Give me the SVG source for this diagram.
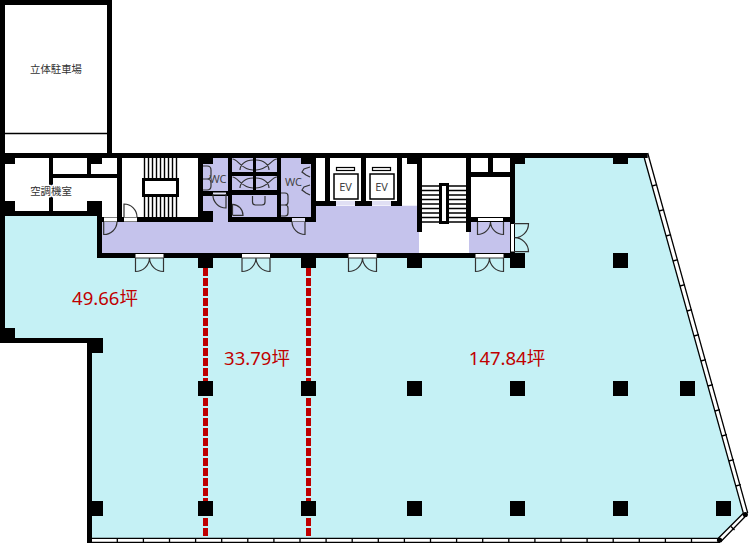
<svg xmlns="http://www.w3.org/2000/svg" width="749" height="543" viewBox="0 0 749 543">
<style>
.k{fill:#000}
.cy{fill:#c5f1f5}
.pu{fill:#c5c3ec}
.wh{fill:#fff}
.door{fill:none;stroke:#333;stroke-width:1.2}
.ln{fill:none;stroke:#000;stroke-width:1.3}
.st{fill:none;stroke:#000;stroke-width:1.4}
.pane{fill:#fff;stroke:none}
.red{fill:none;stroke:#bf0000;stroke-width:5;stroke-dasharray:8 2}
.lab{font-family:"Noto Sans","Noto Sans CJK JP",sans-serif;fill:#333;font-size:10.4px;text-anchor:middle}
.wc{font-family:"Noto Sans",sans-serif;fill:#444;font-size:11px;text-anchor:middle}
.area{font-family:"Noto Sans","Noto Sans CJK JP",sans-serif;fill:#c00000;font-size:18.5px;text-anchor:middle}
</style>
<rect width="749" height="543" class="wh"/>
<polygon class="cy" points="5,216 100,216 100,255 510,255 510,158 644.3,158 743.3,513 718.3,538.3 92,538.3 92,340 5,340"/>
<path class="pu" d="M102 222H228V158H203V222ZM228 205H316V158H228ZM316 205.7H419V253H102V222H316ZM469 222H510V253H469Z"/>
<rect class="pu" x="203" y="158" width="108" height="64"/>

<path class="red" d="M205.5 268V536"/>
<path class="red" d="M308.5 268V536"/>

<g id="walls">
<path class="k" d="M0 0H112V158H107V5H5V153H647.7V158H5V211H102V253H515V258H97V216H5V338H92V543H87V343H0Z"/>
<rect class="k" x="5" y="158" width="10" height="6"/>
<rect class="k" x="87" y="158" width="15" height="6"/>
<rect class="k" x="5" y="201" width="10" height="12"/>
<rect class="k" x="87" y="201" width="15" height="15"/>
<rect class="k" x="49" y="158" width="4" height="54"/>
<rect class="k" x="53" y="174" width="64" height="4"/>
<rect class="k" x="87" y="158" width="4" height="18"/>
<rect class="k" x="117" y="158" width="5" height="64"/>
<rect class="k" x="102" y="217" width="111" height="5"/>
<rect class="k" x="198" y="158" width="5" height="60"/>
<rect class="k" x="198" y="158" width="15" height="6"/>
<rect class="k" x="198" y="211" width="15" height="11"/>
<rect class="k" x="203" y="191" width="25" height="5"/>
<rect class="k" x="228" y="158" width="4" height="64"/>
<rect class="k" x="277" y="158" width="4" height="64"/>
<rect class="k" x="311" y="158" width="5" height="64"/>
<rect class="k" x="301" y="158" width="10" height="6"/>
<rect class="k" x="228" y="217" width="88" height="5"/>
<rect class="k" x="232" y="172" width="45" height="4"/>
<rect class="k" x="232" y="190" width="45" height="5"/>
<rect class="k" x="253" y="158" width="3" height="32"/>
<rect class="k" x="325" y="158" width="5" height="48"/>
<rect class="k" x="361" y="158" width="5" height="48"/>
<rect class="k" x="397" y="158" width="5" height="48"/>
<rect class="k" x="316" y="201" width="20" height="5"/>
<rect class="k" x="355" y="201" width="17" height="5"/>
<rect class="k" x="391" y="201" width="11" height="5"/>
<rect class="k" x="407" y="158" width="15" height="6"/>
<rect class="k" x="417" y="158" width="5" height="74"/>
<rect class="k" x="466" y="158" width="5" height="74"/>
<rect class="k" x="510" y="158" width="5" height="100"/>
<rect class="k" x="510" y="158" width="15" height="6"/>
<rect class="k" x="613" y="158" width="15" height="6"/>
<rect class="k" x="471" y="172" width="39" height="5"/>
<rect class="k" x="488" y="158" width="5" height="14"/>
<rect class="k" x="466" y="217" width="49" height="5"/>
</g>

<g id="columns">
<rect class="k" x="0" y="328" width="15" height="15"/>
<rect class="k" x="88" y="338" width="15" height="15"/>
<rect class="k" x="198" y="253" width="15" height="15"/>
<rect class="k" x="301" y="253" width="15" height="15"/>
<rect class="k" x="407" y="253" width="15" height="15"/>
<rect class="k" x="510" y="253" width="15" height="15"/>
<rect class="k" x="613" y="253" width="15" height="15"/>
<rect class="k" x="198" y="381" width="15" height="15"/>
<rect class="k" x="301" y="381" width="15" height="15"/>
<rect class="k" x="407" y="381" width="15" height="15"/>
<rect class="k" x="510" y="381" width="15" height="15"/>
<rect class="k" x="613" y="381" width="15" height="15"/>
<rect class="k" x="680" y="381" width="15" height="15"/>
<rect class="k" x="88" y="501" width="15" height="15"/>
<rect class="k" x="198" y="501" width="15" height="15"/>
<rect class="k" x="301" y="501" width="15" height="15"/>
<rect class="k" x="407" y="501" width="15" height="15"/>
<rect class="k" x="510" y="501" width="15" height="15"/>
<rect class="k" x="613" y="501" width="15" height="15"/>
<rect class="k" x="716" y="501" width="15" height="15"/>
</g>

<g id="parking">
<path class="ln" d="M5 133.5H107"/>
<text class="lab" x="56" y="73">立体駐車場</text>
</g>

<g id="windows">
<path class="ln" d="M92 538.4H719M92 542.4H720M644.3 158L743.3 513M647.7 153L747.7 513M743.3 513.3L718.3 538.3M746.7 515L720.7 541.7"/>
<path class="ln" d="M117.3 538V543M143.4 538V543M169.5 538V543M195.6 538V543M221.7 538V543M247.8 538V543M273.9 538V543M300 538V543M326.1 538V543M352.2 538V543M378.3 538V543M404.4 538V543M430.5 538V543M456.6 538V543M482.7 538V543M508.8 538V543M534.9 538V543M561 538V543M587.1 538V543M613.2 538V543M639.3 538V543M665.4 538V543M691.5 538V543"/>
<path class="ln" d="M652.1 186l5 -1.4M659.1 211l5 -1.4M666.1 236l5 -1.4M673 261l5 -1.4M680 286l5 -1.4M687 311l5 -1.4M694 336l5 -1.4M700.9 361l5 -1.4M707.9 386l5 -1.4M714.9 411l5 -1.4M721.9 436l5 -1.4M728.8 461l5 -1.4M735.8 486l5 -1.4M731 526.5l3.5 3.5"/>
<circle class="k" cx="745.3" cy="514.5" r="2.6"/>
<circle class="k" cx="719.5" cy="540" r="2.6"/>
</g>

<g id="stairs-west">
<path class="st" d="M144.5 158V178M148.5 158V178M152.5 158V178M156.5 158V178M160.5 158V178M164.5 158V178M168.5 158V178M172.5 158V178M176.5 158V178"/>
<path class="st" d="M144.5 197V217M148.5 197V217M152.5 197V217M156.5 197V217M160.5 197V217M164.5 197V217M168.5 197V217M172.5 197V217M176.5 197V217"/>
<rect x="143.5" y="179.5" width="34" height="16" fill="#fff" stroke="#000" stroke-width="3"/>
</g>

<g id="stairs-east">
<path class="st" d="M422 186H439M449 186H466M422 190.5H439M449 190.5H466M422 195H439M449 195H466M422 199.5H439M449 199.5H466M422 204H439M449 204H466M422 208.5H439M449 208.5H466M422 213H439M449 213H466M422 217.5H439M449 217.5H466M422 222H439M449 222H466"/>
<rect x="440.5" y="184.5" width="7" height="38" fill="#fff" stroke="#000" stroke-width="3"/>
</g>

<g id="elevator-1">
<rect x="334" y="174" width="24" height="25" fill="#fff" stroke="#000" stroke-width="1.5"/>
<rect x="336.5" y="167.5" width="18" height="3" fill="#fff" stroke="#000" stroke-width="1.2"/>
<rect x="336" y="201" width="19" height="4" fill="#e0dff4"/>
<text class="wc" x="345.5" y="190.5">EV</text>
</g>
<g id="elevator-2">
<rect x="370" y="174" width="24" height="25" fill="#fff" stroke="#000" stroke-width="1.5"/>
<rect x="372.5" y="167.5" width="18" height="3" fill="#fff" stroke="#000" stroke-width="1.2"/>
<rect x="372" y="201" width="19" height="4" fill="#e0dff4"/>
<text class="wc" x="381.5" y="190.5">EV</text>
</g>

<g id="doors">
<rect class="pane" x="104" y="217.5" width="13" height="4"/>
<rect class="pane" x="124" y="217.5" width="13" height="4"/>
<path class="door" d="M103.7 222V234.5A13 13 0 0 0 117 222"/>
<path class="door" d="M124 217V204A13 13 0 0 1 137 217"/>
<rect class="pane" x="135.5" y="254" width="28" height="4"/>
<rect class="pane" x="242" y="254" width="28" height="4"/>
<rect class="pane" x="348.5" y="254" width="28" height="4"/>
<rect class="pane" x="475.5" y="254" width="28" height="4"/>
<path class="door" d="M135.5 258V271.5A14 14 0 0 0 149.5 258A14 14 0 0 0 163.5 271.5V258Z"/>
<path class="door" d="M242 258V271.5A14 14 0 0 0 256 258A14 14 0 0 0 270 271.5V258Z"/>
<path class="door" d="M348.5 258V271.5A14 14 0 0 0 362.5 258A14 14 0 0 0 376.5 271.5V258Z"/>
<path class="door" d="M475.5 258V271.5A14 14 0 0 0 489.5 258A14 14 0 0 0 503.5 271.5V258Z"/>
<rect class="pane" x="478" y="218" width="25" height="3"/>
<path class="door" d="M477.5 222V234.5A13 13 0 0 0 490.5 222A13 13 0 0 0 503.5 234.5V222"/>
<rect class="pane" x="511" y="224" width="3" height="27.5"/>
<path class="door" d="M514 223.7H528.5A14 14 0 0 1 514.5 237.7A14 14 0 0 1 528.5 251.7H514"/>
<rect x="292" y="218" width="13" height="3.5" fill="#e0dff4"/>
<path class="door" d="M292 222A13 13 0 0 0 305 234.5V222"/>
<rect x="213" y="192.5" width="13" height="2" fill="#e0dff4"/>
<path class="door" d="M213 194A13 13 0 0 0 226 208V194"/>
</g>

<g id="wc-fixtures">
<path class="door" d="M203 166H207Q211 166 211 170V175Q211 179 207 179H203M207 179Q211 179 211 183V186Q211 190 207 190H203"/>
<path class="door" d="M232.5 159C238 159 241 170 253 170M253 160C245 160 240 165 240 170M277 159C271 159 268 170 256 170M256 160C264 160 269 165 269 170"/>
<path class="door" d="M232.5 177C238 177 241 188 253 188M253 178C245 178 240 183 240 188M277 177C271 177 268 188 256 188M256 178C264 178 269 183 269 188"/>
<path class="door" d="M252.5 196V202Q252.5 205 255.5 205H262Q265 205 265 202V196"/>
<path class="door" d="M232.5 215.3H243A11 11 0 0 0 232.5 204.3V215.3"/>
<path class="door" d="M281 193H285Q288 193 288 196V202Q288 205 285 205H281M285 205Q288 205 288 208V213Q288 216 285 216H281"/>
<path class="door" d="M310 167L304 169L302 172L306 175L310 177M310 185L304 187L302 190L306 193L310 195"/>
</g>

<g id="labels">
<text class="wc" x="218" y="183">WC</text>
<text class="wc" x="293.5" y="186">WC</text>
<text class="lab" x="51" y="195" stroke="#fff" stroke-width="3" paint-order="stroke" stroke-linejoin="round">空調機室</text>
<text class="area" x="105" y="305">49.66坪</text>
<text class="area" x="257" y="365">33.79坪</text>
<text class="area" x="507" y="365">147.84坪</text>
</g>
</svg>
